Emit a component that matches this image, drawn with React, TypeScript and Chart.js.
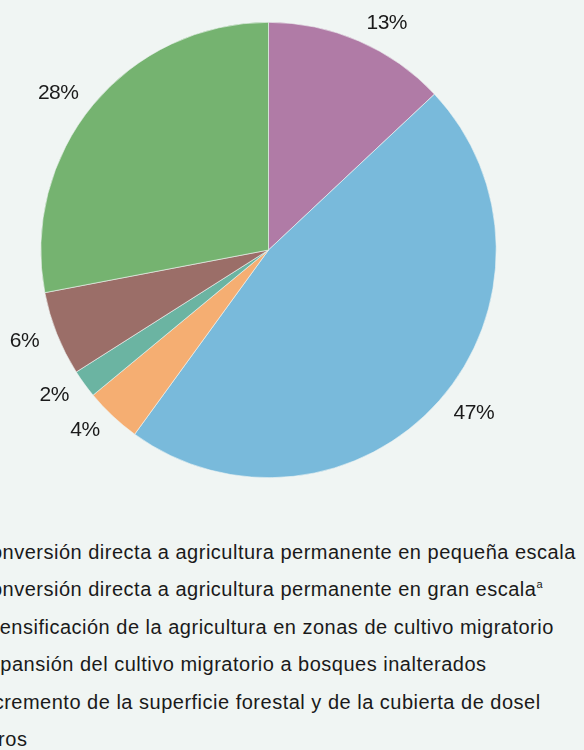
import React, { useEffect, useRef } from "react";
import { Chart, registerables } from "chart.js";

Chart.register(...registerables);

const categories = [
  "Conversión directa a agricultura permanente en pequeña escala",
  "Conversión directa a agricultura permanente en gran escala",
  "Intensificación de la agricultura en zonas de cultivo migratorio",
  "Expansión del cultivo migratorio a bosques inalterados",
  "Incremento de la superficie forestal y de la cubierta de dosel",
  "Otros",
];
const footnoteMarks = ["", "a", "", "", "", ""];
const values = [13, 47, 4, 2, 6, 28];
const sliceColors = ["#B07BA6", "#79BADB", "#F5AE72", "#6BB4A2", "#9B6E68", "#75B370"];
const BG = "#F0F5F3";

const pctLabelPlugin = {
  id: "pctLabels",
  afterDatasetsDraw(chart: any) {
    const ctx = chart.ctx;
    const meta = chart.getDatasetMeta(0);
    const data = chart.data.datasets[0].data as number[];
    const total = data.reduce((a, b) => a + b, 0);
    ctx.save();
    ctx.font = "21px 'Liberation Sans', Arial, sans-serif";
    (ctx as any).letterSpacing = "-0.5px";
    ctx.fillStyle = "#1a1a1a";
    ctx.textBaseline = "middle";
    meta.data.forEach((arc: any, i: number) => {
      const p = arc.getProps(["x", "y", "startAngle", "endAngle", "outerRadius"], true);
      const mid = (p.startAngle + p.endAngle) / 2;
      const r = p.outerRadius + 19;
      const x = p.x + Math.cos(mid) * r;
      const y = p.y + Math.sin(mid) * r;
      ctx.textAlign = Math.cos(mid) >= 0 ? "left" : "right";
      ctx.fillText(Math.round((data[i] / total) * 100) + "%", x, y);
    });
    ctx.restore();
  },
};

export default function App() {
  const ref = useRef<HTMLCanvasElement>(null);
  useEffect(() => {
    document.body.style.margin = "0";
    document.body.style.background = BG;
    const chart = new Chart(ref.current!, {
      type: "pie",
      data: {
        labels: categories,
        datasets: [
          {
            data: values,
            backgroundColor: sliceColors,
            borderColor: BG,
            borderWidth: 0.6,
          },
        ],
      },
      options: {
        responsive: false,
        animation: false,
        layout: { padding: { top: 22, bottom: 22, left: 40, right: 87 } },
        plugins: { legend: { display: false }, tooltip: { enabled: false } },
      },
      plugins: [pctLabelPlugin],
    });
    return () => chart.destroy();
  }, []);

  return (
    <div style={{ position: "relative", width: 584, height: 750, overflow: "hidden", background: BG }}>
      <canvas ref={ref} width={584} height={500} style={{ display: "block" }} />
      <div style={{ position: "absolute", left: -24, top: 534 }}>
        {categories.map((c, i) => (
          <div
            key={i}
            style={{
              fontFamily: "'Liberation Sans', Arial, sans-serif",
              fontSize: 20,
              letterSpacing: "0.5px",
              color: "#1a1a1a",
              height: 37.4,
              lineHeight: "37.4px",
              whiteSpace: "nowrap",
            }}
          >
            {c}
            {footnoteMarks[i] ? (
              <span style={{ fontSize: 11, position: "relative", top: -8 }}>{footnoteMarks[i]}</span>
            ) : null}
          </div>
        ))}
      </div>
    </div>
  );
}
